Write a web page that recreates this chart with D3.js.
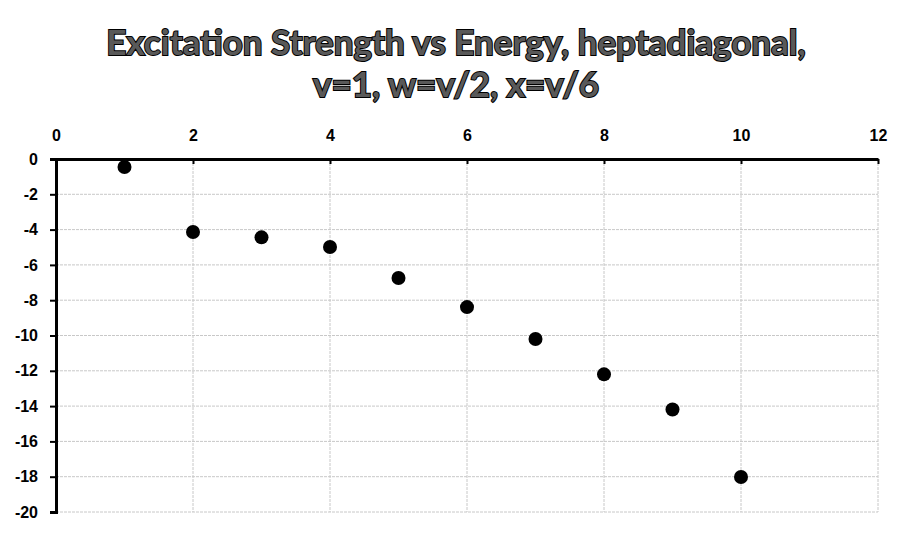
<!DOCTYPE html>
<html>
<head>
<meta charset="utf-8">
<script src="https://cdn.jsdelivr.net/npm/d3@7"></script>
<style>
  body { margin: 0; background: #fff; }
  svg { display: block; }
</style>
</head>
<body>
<svg id="chart" width="911" height="536"></svg>
<script>
"use strict";

// values
var energy = [1, 2, 3, 4, 5, 6, 7, 8, 9, 10];
var strength = [-0.45, -4.14, -4.44, -4.99, -6.74, -8.39, -10.2, -12.2, -14.19, -18.02];
var xTicks = [0, 2, 4, 6, 8, 10, 12];
var yTicks = [0, -2, -4, -6, -8, -10, -12, -14, -16, -18, -20];
var titleLines = ["Excitation Strength vs Energy, heptadiagonal,", "v=1, w=v/2, x=v/6"];

var svg = d3.select("#chart");

var x = d3.scaleLinear().domain([0, 12]).range([56, 878]);
var y = d3.scaleLinear().domain([0, -20]).range([159, 512]);

// title
svg.append("g")
.selectAll("text")
.data(titleLines)
.enter()
.append("text")
.attr("x", 456)
.attr("y", (d, i) => 55 + i * 42)
.attr("text-anchor", "middle")
.attr("font-family", "Lato, 'Open Sans', sans-serif")
.attr("font-weight", "bold")
.attr("font-size", 35)
.attr("fill", "#595959")
.attr("stroke", "#000")
.attr("stroke-width", 2)
.attr("paint-order", "stroke")
.text(d => d);

// grid
let grid = svg.append("g");
grid.selectAll("line.v")
.data(xTicks.slice(1))
.enter()
.append("line")
.attr("class", "v")
.attr("x1", d => x(d))
.attr("x2", d => x(d))
.attr("y1", y(0))
.attr("y2", y(-20))
.style("stroke", "#c8c8c8")
.style("stroke-width", 1)
.attr("stroke-dasharray", "3,1");

grid.selectAll("line.h")
.data(yTicks.slice(1))
.enter()
.append("line")
.attr("class", "h")
.attr("x1", x(0))
.attr("x2", x(12))
.attr("y1", d => y(d))
.attr("y2", d => y(d))
.style("stroke", "#c8c8c8")
.style("stroke-width", 1)
.attr("stroke-dasharray", "3,1");

// axes
let xAxis = svg.append("g")
.attr("transform", `translate(0,${y(0)})`)
.call(d3.axisTop(x).tickValues(xTicks).tickSizeInner(-5).tickSizeOuter(0).tickPadding(18));

let yAxis = svg.append("g")
.attr("transform", `translate(${x(0)},0)`)
.call(d3.axisLeft(y).tickValues(yTicks).tickSize(6).tickPadding(12).tickFormat(d3.format("d")));

[xAxis, yAxis].forEach(function(a) {
  a.select(".domain").style("stroke", "#000").style("stroke-width", 3);
  a.selectAll(".tick line").style("stroke", "#000").style("stroke-width", 2);
  a.selectAll(".tick text")
  .attr("fill", "#000")
  .attr("font-family", "'Liberation Sans', Arial, sans-serif")
  .attr("font-weight", "bold")
  .attr("font-size", 16);
});
yAxis.selectAll(".tick text").text(d => d === 0 ? "0" : "-" + Math.abs(d));

// points
svg.append("g")
.selectAll("circle")
.data(energy)
.enter()
.append("circle")
.attr("cx", d => x(d))
.attr("cy", (d, i) => y(strength[i]))
.attr("r", 7)
.style("fill", "#000");
</script>
</body>
</html>
